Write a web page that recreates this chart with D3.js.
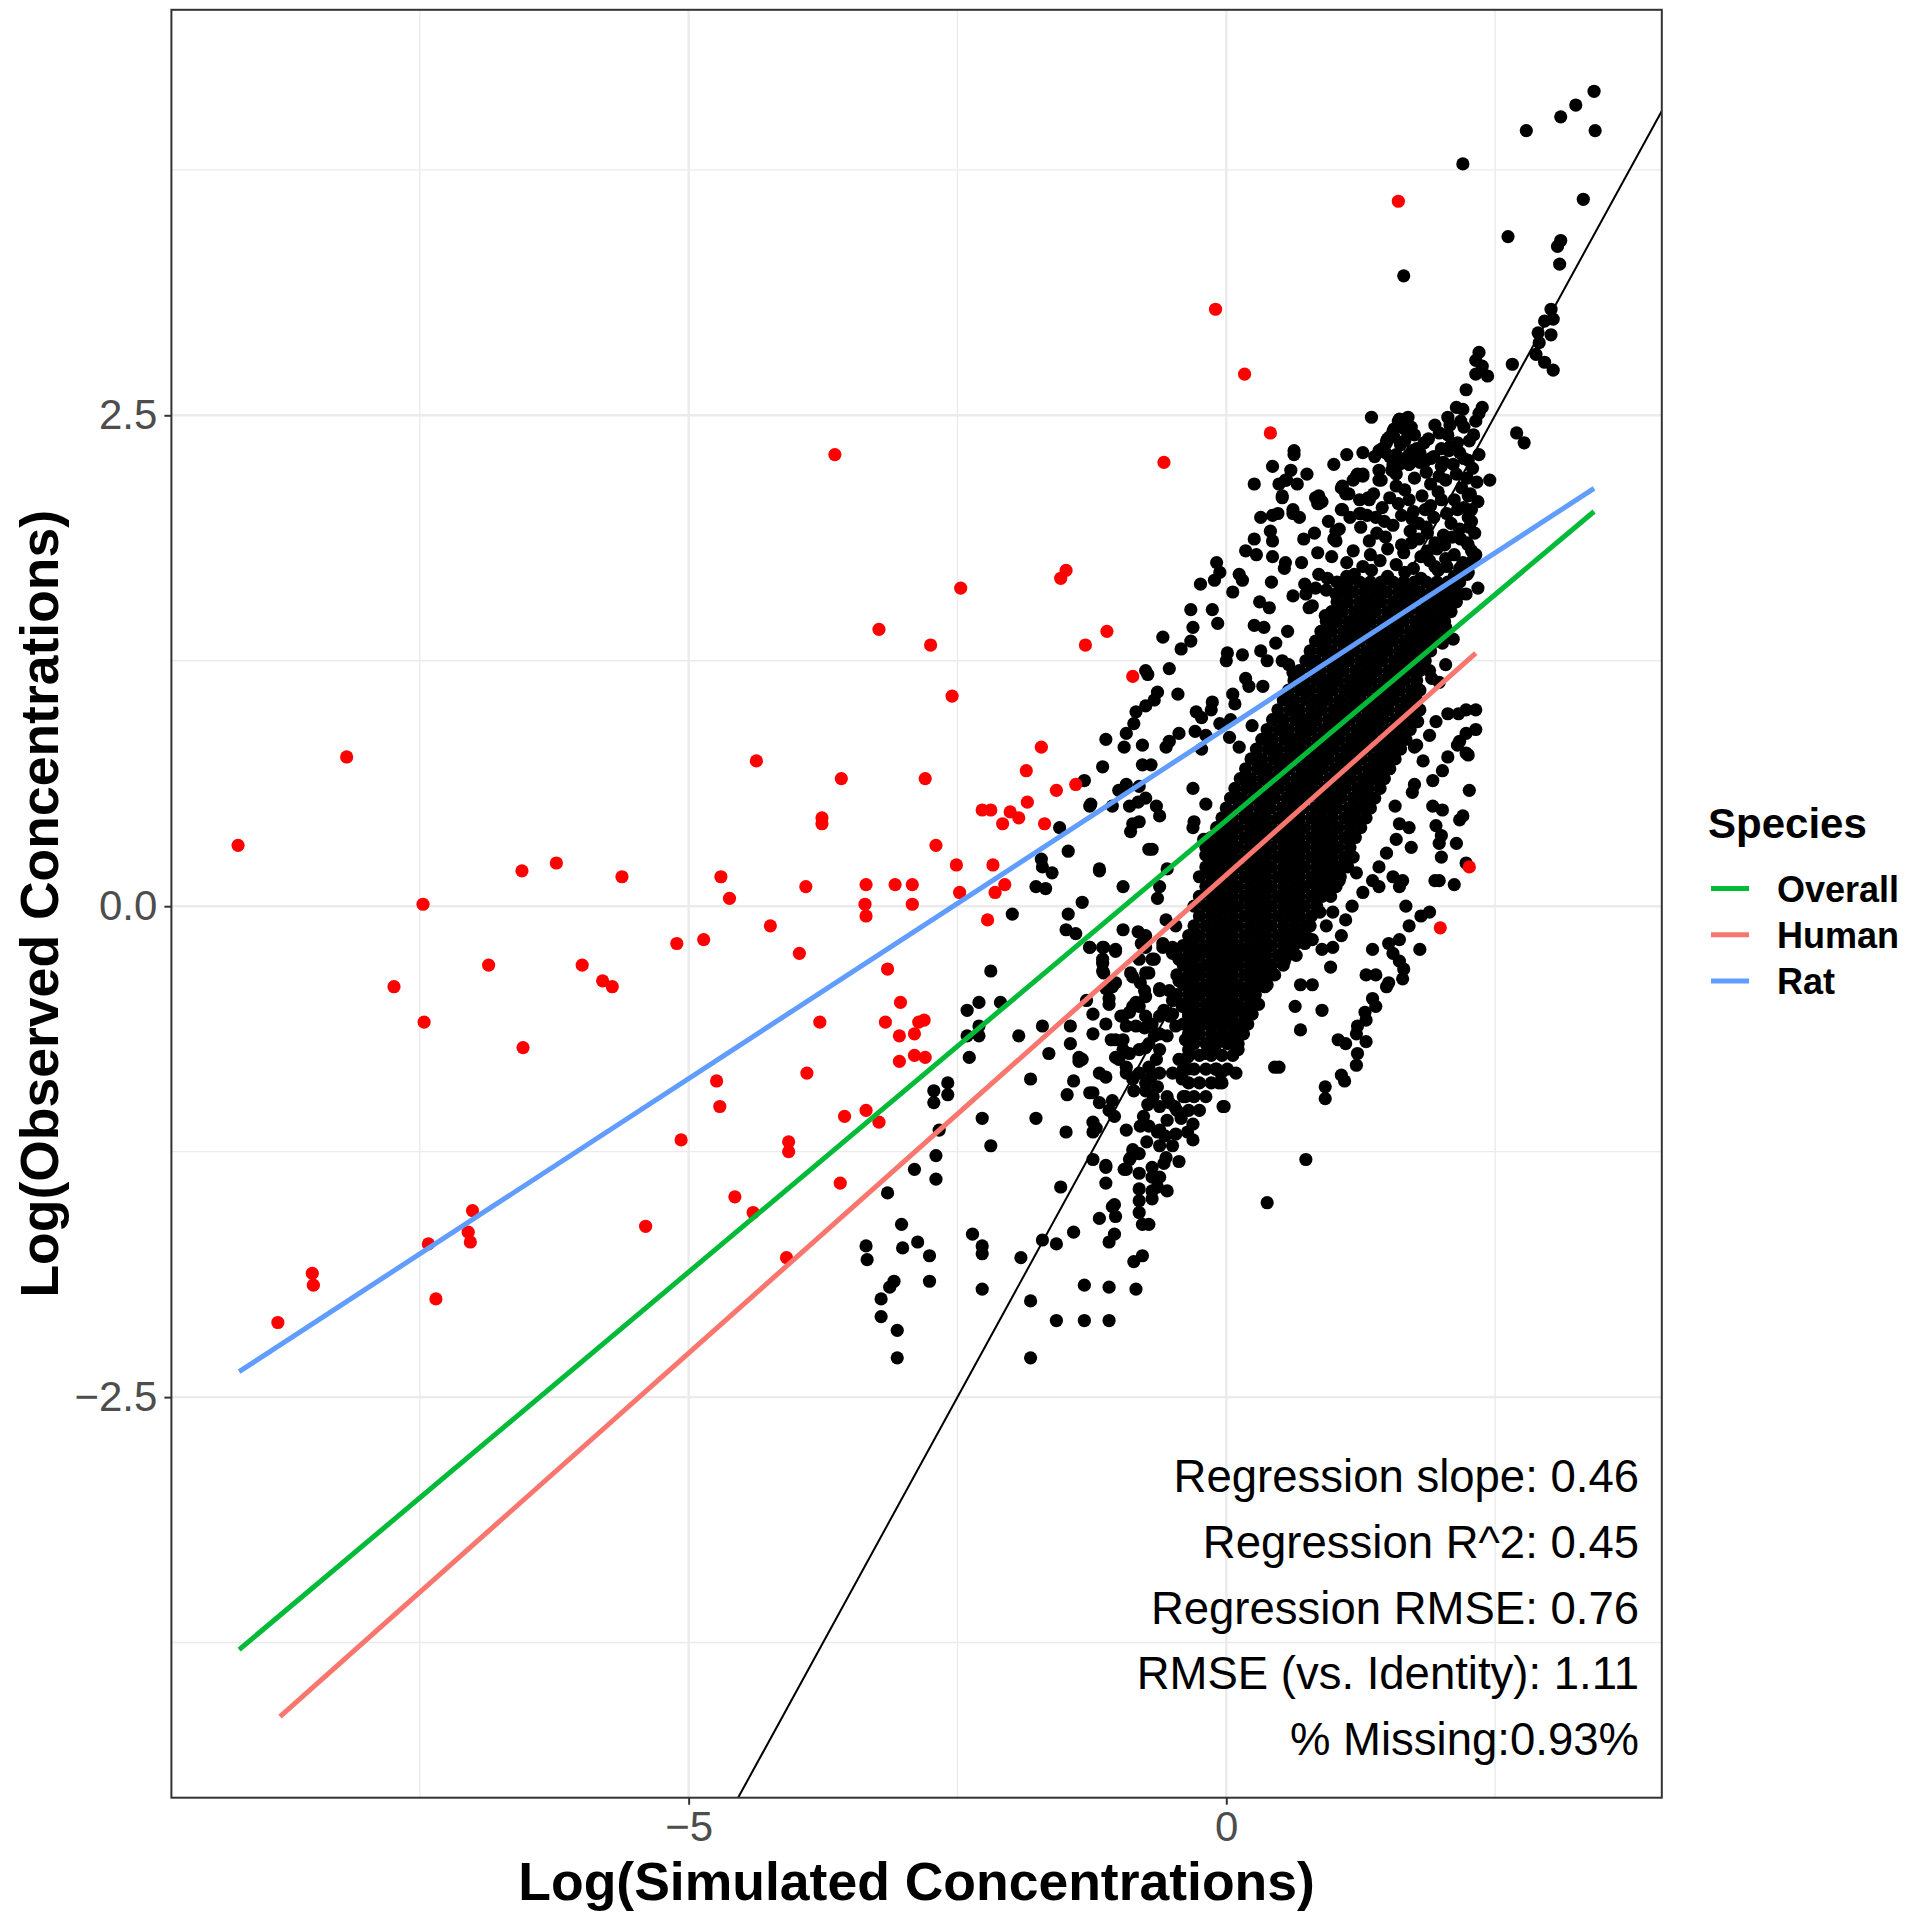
<!DOCTYPE html>
<html><head><meta charset="utf-8">
<script src="https://cdn.jsdelivr.net/npm/d3@7"></script>
<style>body{margin:0;background:#fff}svg{display:block}</style>
</head><body>
<svg id="chart" width="1908" height="1920"></svg>
<script>
// ---------------- data ----------------
const xMajorTicks = [-5, 0];
const xMinorTicks = [-7.5, -2.5, 2.5];
const yMajorTicks = [-2.5, 0, 2.5];
const yMinorTicks = [-3.75, -1.25, 1.25, 3.75];

const fitNames = ["Overall", "Human", "Rat"];
const fitColors = ["#00BA38", "#F8766D", "#619CFF"];
const fitStartX = [-9.18, -8.80, -9.18];
const fitEndX = [3.42, 2.32, 3.42];
const fitSlope = [0.46, 0.487, 0.357];
const fitIntercept = [0.437, 0.159, 0.907];

const statLabels = ["Regression slope: 0.46", "Regression R^2: 0.45", "Regression RMSE: 0.76",
  "RMSE (vs. Identity): 1.11", "% Missing:0.93%"];

const redPoints = [[-9.19,0.31],[-8.18,0.76],[-8.82,-2.12],[-8.50,-1.87],[-8.49,-1.93],[-7.74,-0.41],[-7.47,0.01],[-7.46,-0.59],
[-7.42,-1.72],[-7.35,-2.00],[-7.05,-1.66],[-7.03,-1.71],[-7.01,-1.55],[-6.86,-0.30],[-6.55,0.18],[-6.54,-0.72],[-6.23,0.22],
[-5.99,-0.30],[-5.80,-0.38],[-5.71,-0.41],[-5.62,0.15],[-5.40,-1.63],[-5.11,-0.19],[-5.07,-1.19],[-4.86,-0.17],[-4.74,-0.89],
[-4.71,-1.02],[-4.70,0.15],[-4.62,0.04],[-4.57,-1.48],[-4.40,-1.56],[-4.37,0.74],[-4.24,-0.10],[-4.09,-1.79],[-4.07,-1.20],
[-4.07,-1.25],[-3.97,-0.24],[-3.91,0.10],[-3.90,-0.85],[-3.78,-0.59],[-3.76,0.45],[-3.76,0.42],[-3.64,2.30],[-3.59,-1.41],
[-3.58,0.65],[-3.55,-1.07],[-3.36,0.01],[-3.35,-0.05],[-3.35,0.11],[-3.35,-1.04],[-3.23,-1.10],[-3.23,1.41],[-3.15,-0.32],
[-3.17,-0.59],[-3.08,0.11],[-3.04,-0.66],[-3.04,-0.79],[-3.03,-0.49],[-2.92,0.11],[-2.92,0.01],[-2.90,-0.65],[-2.90,-0.76],
[-2.86,-0.59],[-2.81,-0.58],[-2.80,-0.77],[-2.80,0.65],[-2.75,1.33],[-2.70,0.31],[-2.55,1.07],[-2.51,0.21],[-2.48,0.07],
[-2.47,1.62],[-2.27,0.49],[-2.22,-0.07],[-2.19,0.49],[-2.17,0.21],[-2.15,0.07],[-2.08,0.42],[-2.06,0.11],[-2.01,0.48],
[-1.93,0.45],[-1.86,0.69],[-1.85,0.53],[-1.72,0.81],[-1.69,0.42],[-1.58,0.59],[-1.54,1.67],[-1.49,1.71],[-1.40,0.62],
[-1.31,1.33],[-1.11,1.40],[-0.87,1.17],[-0.58,2.26],[-0.10,3.04],[0.17,2.71],[0.41,2.41],[1.60,3.59],[1.99,-0.11],[2.26,0.20]];

const blackPoints = [
[3.42,4.15],[3.25,4.08],[3.11,4.02],[2.79,3.95],[3.43,3.95],[2.20,3.78],[3.32,3.60],[2.62,3.41],[3.11,3.39],[3.08,3.36],
[3.10,3.27],[1.65,3.21],[3.02,3.04],[3.04,2.99],[2.96,2.98],[2.90,2.92],[3.02,2.91],[2.91,2.87],[2.88,2.81],[2.66,2.76],
[2.96,2.77],[3.04,2.73],[2.35,2.82],[2.32,2.78],[2.38,2.75],[2.32,2.71],[2.43,2.70],[2.23,2.63],[2.14,2.54],[2.38,2.54],
[2.35,2.51],[2.06,2.49],[1.67,2.48],[2.32,2.47],[1.94,2.45],[1.56,2.43],[2.21,2.44],[2.06,2.40],[2.70,2.41],[2.77,2.36],
[1.80,2.31],[1.49,2.37],[1.66,2.37],[2.08,2.34],[2.17,2.31],[2.26,2.37],[2.20,2.53],[2.08,2.45],[2.15,2.36],[1.98,2.41],
[2.25,2.27],[1.90,2.28],[2.02,2.26],[1.35,2.49],[0.63,2.32],[0.63,2.30],[1.27,2.31],[1.38,2.29],[1.52,2.39],[1.45,2.33],
[1.58,2.30],[1.42,2.22],[1.55,2.25],[1.60,2.47],[1.55,2.42],[1.50,2.38],[1.62,2.35],[1.70,2.30],[1.75,2.40],[1.80,2.26],
[0.56,2.17],[0.52,2.09],[0.62,2.02],[0.68,1.98],[0.86,2.09],[0.85,2.05],[1.07,2.13],[1.11,2.10],[1.08,2.02],[1.05,1.92],
[1.24,2.00],[1.22,2.20],[1.27,2.19],[1.33,2.07],[1.42,2.17],[1.39,1.98],
[0.43,2.24],[0.66,2.15],[0.89,2.06],[1.00,1.87],[1.12,1.68],[0.72,1.87],[0.55,1.75],[0.83,1.62],[0.43,1.99],[0.26,1.87],
[0.75,2.20],[0.95,1.96],[1.15,1.98],[0.98,1.78],[0.85,1.80],[0.70,1.75],[0.80,1.53],[0.92,1.48],[1.00,2.25],[1.12,2.30],
[1.48,2.31],[1.61,2.28],[1.77,2.33],[1.93,2.29],[2.07,2.32],[2.21,2.28],[2.35,2.30],[1.54,2.22],[1.70,2.25],[1.86,2.21],
[2.00,2.24],[2.14,2.20],[2.29,2.23],[1.44,2.17],[1.58,2.14],[1.75,2.18],[1.90,2.15],[2.04,2.17],[2.19,2.13],[2.33,2.16],
[1.37,2.10],[1.52,2.08],[1.66,2.12],[1.82,2.09],[1.97,2.11],[2.12,2.07],[2.27,2.10],[1.45,2.03],[1.60,2.05],[1.74,2.01],
[1.90,2.04],[2.05,2.00],[2.21,2.03],[2.34,2.06],[1.31,1.99],[1.47,1.96],[1.63,1.99],[1.79,1.95],[1.93,1.98],[2.09,1.95],
[2.25,1.98],[1.25,1.93],[1.40,1.90],[1.55,1.94],[1.71,1.91],[1.86,1.93],[2.02,1.89],[2.17,1.92],[2.31,1.90],[1.33,1.86],
[1.48,1.88],[1.63,1.84],[1.79,1.87],[1.94,1.85],[2.10,1.88],[2.25,1.84],[1.18,1.81],[1.34,1.79],[1.50,1.82],[1.65,1.80],
[1.81,1.78],[1.96,1.82],[2.12,1.79],[2.28,1.81],[1.12,1.75],[1.27,1.73],[1.43,1.76],[1.58,1.74],[1.74,1.72],[1.89,1.76],
[2.05,1.73],[2.20,1.75],[1.19,1.69],[1.35,1.71],[1.50,1.68],[1.66,1.70],[1.81,1.67],[1.97,1.71],[2.12,1.68],[2.25,1.70],
[1.84,2.26],[1.98,2.19],[2.11,2.25],[2.24,2.18],[1.70,2.07],[1.85,2.02],[2.00,2.07],[2.15,2.02],[2.28,1.96],[1.73,1.97],
[1.87,1.90],[2.03,1.84],[2.18,1.87],[1.72,1.85],[1.88,1.81],[2.04,1.77],[2.17,1.72],[1.94,1.73],[2.30,2.40],[2.18,2.47],
[1.88,2.38],[2.00,2.33],[1.72,2.44],[1.84,2.36],
[0.26,2.15],[0.49,2.15],[0.55,2.17],[0.60,2.22],[0.52,2.08],[0.32,1.98],[0.48,2.00],[0.62,2.00],[0.41,1.91],[0.43,1.86],
[0.18,1.81],[0.28,1.79],[0.43,1.78],[0.54,1.72],[-0.09,1.75],[-0.06,1.70],[-0.11,1.66],[-0.24,1.64],[0.12,1.69],[0.15,1.66],
[0.42,1.65],[0.06,1.60],[0.31,1.55],[0.40,1.52],[-0.33,1.51],[-0.13,1.51],[-0.08,1.44],[-0.31,1.42],[-0.33,1.35],[0.26,1.43],
[0.35,1.42],[-0.59,1.37],[-0.42,1.31],[-0.53,1.21],[-0.75,1.20],[-0.73,1.18],[-0.64,1.09],[-0.67,1.05],[-0.75,1.02],[-0.84,0.99],
[-0.86,0.93],[-0.93,0.88],[-0.95,0.81],[-1.12,0.85],[-0.45,1.08],[0.01,1.29],[0.15,1.28],[0.00,1.25],[0.32,1.30],[0.46,1.34],
[0.57,1.40],[0.06,1.08],[0.08,1.03],[-0.13,1.04],[-0.14,1.00],[-0.28,0.99],[-0.23,0.96],[-0.29,0.89],[-0.44,0.88],[-0.53,0.84],
[-0.56,0.81],[0.18,1.16],[0.21,1.12],[0.34,1.12],[0.38,1.25],[0.52,1.25],[0.58,1.23],[0.62,1.19],[0.24,0.92],[0.04,0.95],
[-0.06,0.93],[-0.19,0.87],[-0.23,0.80],[0.03,0.86],[0.12,0.81],[0.62,1.58],[0.74,1.59],[0.77,1.52],[0.83,2.08],[0.86,2.05],
[0.82,1.90],[1.02,1.91],[1.02,1.86],[1.08,2.14],[1.14,2.10],[1.07,2.02],[1.24,2.07],[1.32,2.08],[1.25,2.00],[0.86,1.69],
[0.94,1.67],[0.93,1.61],[1.02,1.59],[0.73,1.64],[1.18,2.17],[1.21,2.19],[1.27,2.20],[1.49,2.36],[1.42,2.32],[1.52,2.29],
[1.61,2.48],[1.69,2.49],[1.66,2.43],[1.56,2.39],[1.62,2.36],[1.73,2.32],[1.79,2.29],[1.61,2.25],[1.70,2.25],[1.58,2.20],
[2.45,2.17],[2.34,1.62],[2.32,1.00],[2.06,0.98],[2.16,0.98],[2.23,1.00],[1.95,0.94],[1.78,0.94],[1.89,0.87],[1.77,0.82],
[2.17,0.84],[2.23,0.88],[2.23,0.78],[2.32,0.90],[1.98,1.14],[1.91,1.16],[1.89,1.20],[1.82,1.25],[2.04,1.23],[2.11,1.36],
[2.04,1.42],[2.01,1.34],[2.17,1.59],[2.23,1.59],[2.14,1.66],[2.24,1.69],[2.29,1.76],[2.32,1.79],[2.24,1.85],[2.26,1.93],
[2.28,2.02],[2.25,2.09],
[1.75,0.81],[1.83,0.74],[2.06,0.76],[2.01,0.69],[1.92,0.64],[2.25,0.77],[2.15,0.82],[2.26,0.59],[1.75,0.62],[1.73,0.58],
[1.92,0.51],[2.01,0.49],[2.20,0.46],[2.17,0.44],[1.95,0.41],[2.00,0.36],[1.98,0.32],[2.14,0.32],[2.00,0.25],[2.23,0.22],
[1.94,0.13],[1.98,0.13],[2.12,0.11],[1.57,0.51],[1.61,0.42],[1.70,0.40],[1.72,0.30],[1.58,0.34],[1.49,0.27],[1.42,0.20],
[1.55,0.15],[1.61,0.10],[1.64,0.13],[1.67,0.00],[1.81,-0.05],[1.89,-0.03],[1.70,-0.10],[1.80,-0.22],[1.61,-0.17],[1.51,-0.19],
[1.36,-0.22],[1.55,-0.24],[1.61,-0.28],[1.65,-0.32],[1.64,-0.37],[1.30,-0.35],[1.39,-0.35],[1.49,-0.41],[1.51,-0.39],[1.36,-0.47],
[1.39,-0.51],[1.29,-0.54],[1.30,-0.58],[1.22,-0.61],[1.21,-0.65],[1.30,-0.69],[1.11,-0.70],[1.04,-0.68],[1.22,-0.75],[1.21,-0.81],
[1.07,-0.86],[0.69,-0.40],[0.80,-0.40],[0.64,-0.51],[0.89,-0.53],[0.69,-0.63],[0.45,-0.82],[0.49,-0.82],[0.92,-0.92],[0.92,-0.98],
[0.97,-0.31],[0.89,-0.22],[0.99,-0.21],[1.07,-0.15],[0.54,-0.28],[0.65,-0.25],[0.73,-0.19],[0.36,-0.41],[0.37,-0.32],[0.06,-0.69],
[0.11,-0.73],[-0.05,-0.85],[-0.02,-1.02],[0.09,-0.85],[0.80,0.12],[0.93,0.07],[0.99,-0.03],[1.11,-0.07],[1.17,0.00],[1.27,0.07],
[1.36,0.13],[1.42,0.10],[1.21,0.17],[1.05,0.13],[0.87,-0.03],[0.74,-0.10],[0.65,-0.17],[0.80,-0.17],[0.93,-0.10],
[1.10,-0.89],[0.74,-1.29],[0.38,-1.51],
[-1.15,0.71],[-1.00,0.59],[-0.90,0.51],[-0.82,0.53],[-0.75,0.55],[-0.62,0.46],[-1.26,0.52],[-0.87,0.42],[-0.89,0.38],[-0.72,0.29],
[-0.31,0.60],[-0.19,0.52],[-0.30,0.43],[-0.31,0.40],[-1.18,0.19],[-0.96,0.10],[-1.34,0.02],[-0.21,0.34],[-0.19,0.26],[-0.14,0.17],
[-0.55,0.19],[-0.62,0.10],[-0.64,0.04],[-0.56,-0.07],[-1.27,-0.21],[-1.14,-0.21],[-1.03,-0.22],[-1.15,-0.27],[-0.96,-0.12],[-0.82,-0.13],
[-0.75,-0.15],[-0.79,-0.19],[-1.14,-0.34],[-1.06,-0.41],[-0.89,-0.34],[-0.81,-0.27],[-0.75,-0.34],[-0.67,-0.27],[-0.59,-0.19],[-0.47,-0.10],
[-0.50,-0.21],[-1.24,-0.65],[-1.12,-0.60],[-0.98,-0.56],[-0.87,-0.51],[-0.75,-0.46],[-0.62,-0.42],[-1.07,-0.68],[-0.96,-0.68],[-0.84,-0.61],
[-0.75,-0.56],[-1.34,-0.78],[-1.18,-0.85],[-1.00,-0.78],[-0.93,-0.85],[-0.75,-0.72],[-0.62,-0.65],[-0.53,-0.56],[-1.24,-0.95],[-1.06,-0.99],
[-0.75,-0.90],[-0.62,-0.85],[-0.53,-1.00],
[-1.55,0.40],[-1.47,0.28],[-1.72,0.24],[-1.71,0.20],[-1.62,0.17],[-1.77,0.10],[-1.68,0.09],[-1.99,-0.04],[-1.47,-0.04],[-1.49,-0.12],
[-1.40,-0.14],[-1.32,0.64],[-1.27,0.51],[-1.18,0.18],[-1.06,0.51],[-0.93,0.62],[-0.81,0.61],[-0.81,0.43],[-0.78,0.82],[-0.78,0.72],
[-0.70,0.72],[-0.65,0.51],[-0.69,0.29],
[-2.19,-0.33],[-2.41,-0.53],[-2.30,-0.49],[-2.10,-0.49],[-2.41,-0.66],[-2.30,-0.61],[-2.30,-0.66],[-2.39,-0.77],[-2.72,-0.94],[-2.59,-0.90],
[-2.72,-1.00],[-2.59,-0.96],[-1.93,-0.66],[-1.71,-0.61],[-1.65,-0.75],[-1.45,-0.61],[-1.45,-0.70],[-1.37,-0.77],[-1.37,-0.79],[-1.82,-0.88],
[-2.27,-1.08],[-2.19,-1.22],[-1.77,-1.08],[-2.67,-1.14],[-2.70,-1.27],[-2.70,-1.39],[-2.90,-1.34],[-3.15,-1.46],[-1.49,-1.15],[-1.48,-0.96],
[-1.42,-0.89],[-1.27,-0.95],[-1.24,-1.10],[-1.18,-1.00],[-1.09,-1.04],[-1.04,-1.07],[-1.21,-1.13],[-1.24,-1.15],[-1.24,-1.29],[-1.12,-1.32],
[-1.12,-1.41],[-1.54,-1.43],[-1.30,-0.48],[-1.24,-0.55],[-1.09,-0.50],[-1.12,-0.42],[-1.09,-0.47],[-1.03,-0.39],[-1.15,-0.33],[-1.15,-0.29],
[-1.27,-0.21],[-1.15,-0.21],[-1.03,-0.23],[-1.12,-0.87],[-0.93,-1.14],[-0.80,-1.12],[-0.64,-1.15],[-0.87,-1.24],[-0.90,-1.29],[-0.93,-1.34],
[-0.81,-1.36],[-0.69,-1.38],[-0.64,-1.43],[-0.55,-1.45],[-0.81,-1.50],[-0.69,-1.49],[-1.04,-1.52],[-1.18,-1.59],[-1.42,-1.66],[-1.09,-1.71],
[-1.04,-1.67],[-0.86,-1.81],[-0.78,-1.78],[-0.84,-1.95],[-1.09,-1.94],[-1.32,-1.93],[-1.58,-2.11],[-1.32,-2.11],[-1.09,-2.11],[-1.82,-2.01],
[-1.91,-1.79],[-1.71,-1.70],[-1.58,-1.72],[-2.27,-1.95],[-2.36,-1.67],[-2.27,-1.73],[-2.27,-1.77],[-2.76,-1.91],[-3.09,-1.91],[-3.13,-1.94],
[-3.21,-2.00],[-3.21,-2.09],[-3.06,-2.16],[-3.06,-2.30],[-1.82,-2.30],[-2.76,-1.78],[-2.87,-1.71],[-3.01,-1.74],[-3.02,-1.62],[-3.35,-1.73],
[-3.34,-1.80],
[-0.87,-0.36],[-0.80,-0.39],[-0.76,-0.43],[-0.84,-0.49],[-0.81,-0.51],[-0.90,-0.54],[-0.96,-0.56],[-0.93,-0.61],[-1.03,-0.68],[-0.96,-0.73],
[-1.03,-0.77],[-0.93,-0.82],[-0.90,-0.75],[-0.81,-0.73],[-0.72,-0.70],[-0.67,-0.66],[-0.76,-0.62],[-0.69,-0.60],[-0.62,-0.56],[-0.58,-0.53],
[-0.55,-0.66],[-0.62,-0.73],[-0.65,-0.78],[-0.72,-0.82],[-0.70,-0.87],[-0.64,-0.92],[-0.55,-0.97],[-0.48,-1.02],[-0.62,-1.02],[-0.73,-1.01],
[-0.75,-0.94],[-0.81,-0.85],[-0.86,-0.94],[-0.87,-0.88],[-0.50,-0.85],[-0.41,-0.88],[-0.36,-0.83],[-0.44,-0.78],[-0.35,-0.73],[-0.38,-0.68],
[-0.30,-0.66],[-0.31,-0.61],[-0.35,-0.56],[-0.50,-0.55],[-0.47,-0.61],[-0.41,-0.51],[-0.50,-0.48],[-0.62,-0.43],[-0.72,-0.34],[-0.69,-0.27],
[-0.75,-0.21],[-0.59,-0.21],[-0.50,-0.24],[-0.44,-0.27],[-0.35,-0.21],[-0.25,-0.24],[-0.19,-0.21],[-0.03,-0.21],[0.12,-0.22],[0.22,-0.26],
[0.09,-0.29],[-0.13,-0.31],[-0.25,-0.34],[-0.35,-0.39],[-0.44,-0.38],[-0.53,-0.43],[-0.31,-0.44],[-0.22,-0.43],[-0.13,-0.46],[0.00,-0.44],
[0.12,-0.43],[0.25,-0.34],[0.25,-0.48],[0.12,-0.53],[0.00,-0.53],[-0.10,-0.55],[-0.19,-0.56],[-0.25,-0.60],[-0.13,-0.72],[-0.19,-0.75],
[-0.35,-0.65],[-0.36,-0.77],[-0.10,-0.83],[-0.07,-0.90],[-0.03,-1.02],[-0.31,-1.11],[-0.31,-1.19],[0.06,-0.68],[0.10,-0.73],[-0.47,-1.16],
[-0.55,-1.09],[-0.62,-1.14],[-0.72,-1.12],[-0.89,-1.28],[-0.95,-1.34],[-0.81,-1.26],[-0.62,-1.22],[-0.56,-1.28],[-0.69,-1.33],[-0.62,-1.38],
[-0.81,-1.44],[-0.69,-1.45],[-0.81,-1.56],[-0.78,-1.62],[-0.72,-1.62],[-1.06,-1.53],[-1.03,-1.58],[-1.12,-1.33],
[-0.42,-1.08],[-0.36,-1.15],[-0.50,-1.22],[-0.44,-1.30],[-0.58,-1.31],[-0.74,-1.20],[-0.77,-1.07],[-0.68,-0.97],[-0.57,-1.17],[-0.38,-0.97]];

// dense central cloud, read row by row: [observed value, simulated values...]
const blackCoreRows = [
[1.65,[1.03,1.13,1.24,1.34,1.44,1.55,1.65,1.75,1.86,1.96,2.06,2.17]],
[1.60,[1.08,1.18,1.29,1.39,1.49,1.60,1.70,1.80,1.91,2.01,2.11]],
[1.55,[1.03,1.13,1.24,1.34,1.44,1.55,1.65,1.75,1.86,1.96,2.06,2.14]],
[1.50,[0.98,1.08,1.19,1.29,1.39,1.50,1.60,1.70,1.81,1.91,2.01,2.09]],
[1.45,[0.93,1.03,1.14,1.24,1.34,1.45,1.55,1.65,1.76,1.86,1.96,2.03]],
[1.40,[0.88,0.98,1.09,1.19,1.29,1.40,1.50,1.60,1.71,1.81,1.91,2.00]],
[1.35,[0.83,0.93,1.04,1.14,1.24,1.35,1.45,1.55,1.66,1.76,1.86,1.95]],
[1.30,[0.78,0.89,0.98,1.09,1.19,1.30,1.40,1.50,1.61,1.71,1.81,1.90]],
[1.25,[0.74,0.83,0.94,1.04,1.14,1.25,1.35,1.45,1.56,1.66,1.76,1.85]],
[1.20,[0.68,0.79,0.88,0.99,1.09,1.20,1.30,1.40,1.51,1.61,1.71,1.80]],
[1.15,[0.63,0.73,0.84,0.94,1.04,1.15,1.25,1.35,1.46,1.56,1.66,1.77]],
[1.10,[0.58,0.69,0.78,0.89,0.99,1.10,1.20,1.30,1.41,1.51,1.61,1.72,1.80]],
[1.05,[0.53,0.63,0.74,0.84,0.94,1.05,1.15,1.25,1.36,1.46,1.56,1.67,1.77]],
[1.00,[0.48,0.59,0.68,0.79,0.89,1.00,1.10,1.20,1.31,1.41,1.51,1.62,1.72,1.80]],
[0.95,[0.43,0.53,0.64,0.74,0.84,0.95,1.05,1.15,1.26,1.36,1.46,1.57,1.67,1.76]],
[0.90,[0.38,0.49,0.58,0.69,0.79,0.90,1.00,1.10,1.21,1.31,1.41,1.52,1.62,1.71]],
[0.85,[0.33,0.43,0.54,0.64,0.74,0.85,0.95,1.05,1.16,1.26,1.36,1.47,1.57,1.67]],
[0.80,[0.28,0.39,0.48,0.59,0.69,0.80,0.90,1.00,1.11,1.21,1.31,1.42,1.52,1.62]],
[0.75,[0.23,0.33,0.44,0.54,0.64,0.75,0.85,0.95,1.06,1.16,1.26,1.37,1.47,1.57]],
[0.70,[0.18,0.29,0.38,0.49,0.59,0.70,0.80,0.90,1.01,1.11,1.21,1.32,1.42,1.52]],
[0.65,[0.13,0.23,0.34,0.44,0.54,0.65,0.75,0.85,0.96,1.06,1.16,1.27,1.37,1.47]],
[0.60,[0.08,0.19,0.28,0.39,0.49,0.60,0.70,0.80,0.91,1.01,1.11,1.22,1.32,1.43]],
[0.55,[0.04,0.14,0.25,0.35,0.45,0.56,0.66,0.76,0.87,0.97,1.07,1.18,1.28,1.38]],
[0.50,[0.00,0.11,0.20,0.31,0.41,0.52,0.62,0.72,0.83,0.93,1.03,1.14,1.24,1.34]],
[0.45,[-0.04,0.06,0.17,0.27,0.37,0.48,0.58,0.68,0.79,0.89,0.99,1.10,1.20,1.30]],
[0.40,[-0.09,0.01,0.11,0.22,0.32,0.42,0.53,0.63,0.73,0.84,0.94,1.04,1.15,1.25]],
[0.35,[-0.14,-0.04,0.06,0.17,0.27,0.37,0.48,0.58,0.68,0.79,0.89,0.99,1.10,1.20]],
[0.30,[-0.19,-0.09,0.01,0.11,0.22,0.32,0.42,0.53,0.63,0.73,0.84,0.94,1.04,1.15]],
[0.25,[-0.14,-0.04,0.06,0.17,0.27,0.37,0.48,0.58,0.68,0.79,0.89,0.99,1.10,1.18]],
[0.20,[-0.19,-0.09,0.01,0.11,0.22,0.32,0.42,0.53,0.63,0.73,0.84,0.94,1.04,1.13]],
[0.15,[-0.25,-0.14,-0.04,0.06,0.17,0.27,0.37,0.48,0.58,0.68,0.79,0.89,0.99,1.06]],
[0.10,[-0.19,-0.09,0.01,0.11,0.22,0.32,0.42,0.53,0.63,0.73,0.84,0.94,1.02]],
[0.05,[-0.25,-0.14,-0.04,0.06,0.17,0.27,0.37,0.48,0.58,0.68,0.79,0.89,0.97]],
[0.00,[-0.30,-0.19,-0.09,0.01,0.11,0.22,0.32,0.42,0.53,0.63,0.73,0.84]],
[-0.05,[-0.25,-0.14,-0.04,0.06,0.17,0.27,0.37,0.48,0.58,0.68,0.79]],
[-0.10,[-0.30,-0.19,-0.09,0.01,0.11,0.22,0.32,0.42,0.53,0.63,0.73,0.78]],
[-0.15,[-0.35,-0.25,-0.14,-0.04,0.06,0.17,0.27,0.37,0.48,0.58,0.68,0.74]],
[-0.20,[-0.40,-0.30,-0.19,-0.09,0.01,0.11,0.22,0.32,0.42,0.53,0.63]],
[-0.25,[-0.46,-0.35,-0.25,-0.14,-0.04,0.06,0.17,0.27,0.37,0.48,0.57]],
[-0.30,[-0.40,-0.30,-0.19,-0.09,0.01,0.11,0.22,0.32,0.42,0.53]],
[-0.35,[-0.46,-0.35,-0.25,-0.14,-0.04,0.06,0.17,0.27,0.37,0.45]],
[-0.40,[-0.40,-0.30,-0.19,-0.09,0.01,0.11,0.22,0.32,0.38]],
[-0.45,[-0.46,-0.35,-0.25,-0.14,-0.04,0.06,0.17,0.27]],
[-0.50,[-0.40,-0.30,-0.19,-0.09,0.01,0.11,0.22,0.30]],
[-0.55,[-0.35,-0.25,-0.14,-0.04,0.06,0.17,0.24]],
[-0.60,[-0.40,-0.30,-0.19,-0.09,0.01,0.11,0.20]],
[-0.65,[-0.35,-0.25,-0.14,-0.04,0.06,0.16]],
[-0.70,[-0.30,-0.19,-0.09,0.01,0.11]],
[-0.76,[-0.35,-0.25,-0.14,-0.04,0.06]],
[-0.83,[-0.40,-0.30,-0.19,-0.09,0.01]],
[-0.90,[-0.35,-0.25,-0.14,-0.04]],
[-0.97,[-0.40,-0.30,-0.19]],
[-1.04,[-0.46,-0.35,-0.25]]];

// ---------------- drawing ----------------
const FONT = "'Liberation Sans', Arial, Helvetica, sans-serif";
const P = {left: 171.4, right: 1661.8, top: 9.8, bottom: 1797.7};
const svg = d3.select("#chart");
svg.append("rect").attr("width", 1908).attr("height", 1920).attr("fill", "#fff");

const x = d3.scaleLinear().domain([-9.81, 4.05]).range([P.left, P.right]);
const y = d3.scaleLinear().domain([-4.54, 4.565]).range([P.bottom, P.top]);

svg.append("defs").append("clipPath").attr("id", "panelClip")
  .append("rect").attr("x", P.left).attr("y", P.top)
  .attr("width", P.right - P.left).attr("height", P.bottom - P.top);

const grid = svg.append("g");
grid.selectAll(".vmin").data(xMinorTicks).join("line")
  .attr("x1", d => x(d)).attr("x2", d => x(d)).attr("y1", P.top).attr("y2", P.bottom)
  .attr("stroke", "#EBEBEB").attr("stroke-width", 1.4);
grid.selectAll(".hmin").data(yMinorTicks).join("line")
  .attr("y1", d => y(d)).attr("y2", d => y(d)).attr("x1", P.left).attr("x2", P.right)
  .attr("stroke", "#EBEBEB").attr("stroke-width", 1.4);
grid.selectAll(".vmaj").data(xMajorTicks).join("line")
  .attr("x1", d => x(d)).attr("x2", d => x(d)).attr("y1", P.top).attr("y2", P.bottom)
  .attr("stroke", "#EBEBEB").attr("stroke-width", 2.4);
grid.selectAll(".hmaj").data(yMajorTicks).join("line")
  .attr("y1", d => y(d)).attr("y2", d => y(d)).attr("x1", P.left).attr("x2", P.right)
  .attr("stroke", "#EBEBEB").attr("stroke-width", 2.4);

const plot = svg.append("g").attr("clip-path", "url(#panelClip)");
const R = 6.6;
const corePts = [];
blackCoreRows.forEach(([yy, xs]) => xs.forEach(xx => corePts.push([xx, yy])));
const allBlack = blackPoints.concat(corePts);
plot.append("g").selectAll("circle").data(allBlack).join("circle")
  .attr("cx", d => x(d[0])).attr("cy", d => y(d[1])).attr("r", R).attr("fill", "#000");
plot.append("g").selectAll("circle").data(redPoints).join("circle")
  .attr("cx", d => x(d[0])).attr("cy", d => y(d[1])).attr("r", R).attr("fill", "#FF0000");

// identity line (y = x)
const xd = x.domain();
plot.append("line")
  .attr("x1", x(xd[0])).attr("y1", y(xd[0])).attr("x2", x(xd[1])).attr("y2", y(xd[1]))
  .attr("stroke", "#000").attr("stroke-width", 2);

// regression lines
const fits = fitNames.map((n, i) => ({name: n, color: fitColors[i], x0: fitStartX[i], x1: fitEndX[i], b: fitSlope[i], a: fitIntercept[i]}));
[1, 2, 0].forEach(i => {
  const f = fits[i];
  plot.append("line")
    .attr("x1", x(f.x0)).attr("y1", y(f.a + f.b * f.x0))
    .attr("x2", x(f.x1)).attr("y2", y(f.a + f.b * f.x1))
    .attr("stroke", f.color).attr("stroke-width", 5);
});

// panel border
svg.append("rect").attr("x", P.left).attr("y", P.top)
  .attr("width", P.right - P.left).attr("height", P.bottom - P.top)
  .attr("fill", "none").attr("stroke", "#333333").attr("stroke-width", 2);

// axes
const xAxis = svg.append("g").attr("transform", `translate(0,${P.bottom})`)
  .call(d3.axisBottom(x).tickValues(xMajorTicks).tickSize(7).tickPadding(6).tickFormat(d3.format("d")));
const yAxis = svg.append("g").attr("transform", `translate(${P.left},0)`)
  .call(d3.axisLeft(y).tickValues(yMajorTicks).tickSize(7).tickPadding(7).tickFormat(d3.format(".1f")));
[xAxis, yAxis].forEach(g => {
  g.select(".domain").remove();
  g.selectAll(".tick line").attr("stroke", "#333333").attr("stroke-width", 2);
  g.selectAll(".tick text").attr("fill", "#4D4D4D").style("font-family", FONT).style("font-size", "42px");
});

// axis titles
svg.append("text").attr("x", (P.left + P.right) / 2).attr("y", 1900)
  .attr("text-anchor", "middle").style("font-family", FONT).style("font-weight", "bold")
  .style("font-size", "53.5px").attr("fill", "#000").text("Log(Simulated Concentrations)");
svg.append("text").attr("transform", `translate(58,${(P.top + P.bottom) / 2}) rotate(-90)`)
  .attr("text-anchor", "middle").style("font-family", FONT).style("font-weight", "bold")
  .style("font-size", "53.5px").attr("fill", "#000").text("Log(Observed Concentrations)");

// statistics annotation
svg.append("g").selectAll("text").data(statLabels).join("text")
  .attr("x", 1639).attr("y", (d, i) => 1492 + i * 65.8)
  .attr("text-anchor", "end").style("font-family", FONT).style("font-size", "45.5px")
  .attr("fill", "#000").text(d => d);

// legend
const lg = svg.append("g");
lg.append("text").attr("x", 1708).attr("y", 838).style("font-family", FONT)
  .style("font-weight", "bold").style("font-size", "42px").text("Species");
fits.forEach((f, i) => {
  const yy = 888.5 + i * 46.2;
  lg.append("line").attr("x1", 1711).attr("x2", 1749).attr("y1", yy).attr("y2", yy)
    .attr("stroke", f.color).attr("stroke-width", 5);
  lg.append("text").attr("x", 1777).attr("y", yy + 13).style("font-family", FONT)
    .style("font-weight", "bold").style("font-size", "36px").text(f.name);
});
</script>
</body></html>
